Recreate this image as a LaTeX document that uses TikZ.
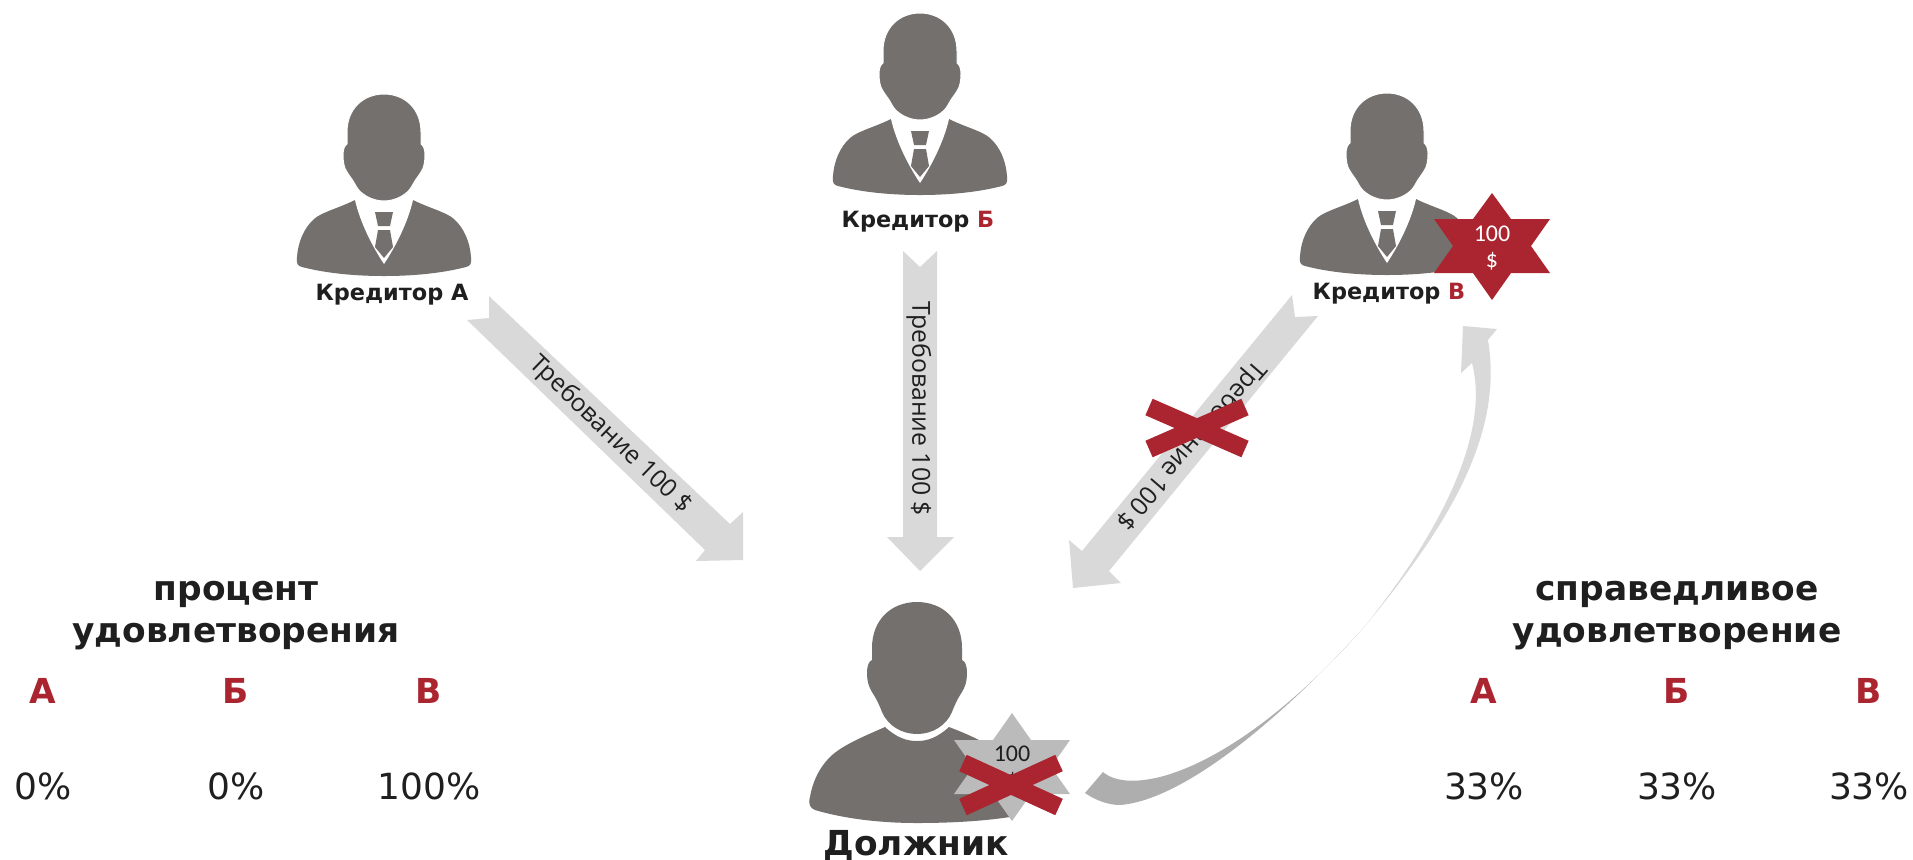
\documentclass[tikz,border=0pt]{standalone}
\usepackage{fontspec}
\setmainfont{DejaVu Sans}
\newfontfamily\arrowfont{Open Sans}
\newfontfamily\starfont{Carlito}
\definecolor{persongray}{HTML}{73706D}
\definecolor{brickred}{HTML}{AB2530}
\definecolor{inkdark}{HTML}{1F1F1F}
\definecolor{arrowgray}{HTML}{D9D9D9}
\definecolor{stargray}{HTML}{BBBBBB}
\definecolor{curvedark}{HTML}{AEAEAE}
\pgfdeclareverticalshading{curveshade}{100bp}{color(0bp)=(curvedark); color(36bp)=(curvedark); color(49bp)=(arrowgray); color(100bp)=(arrowgray)}
\tikzset{
  base/.style={inner sep=0pt,outer sep=0pt,anchor=base,text=inkdark},
  namelabel/.style={base,font=\fontsize{11.2}{13}\selectfont\bfseries},
  headlabel/.style={base,font=\fontsize{17.2}{21}\selectfont\bfseries,align=center},
  letterlabel/.style={base,font=\fontsize{17.2}{20}\selectfont\bfseries,text=brickred},
  pctlabel/.style={base,font=\fontsize{18}{20}\selectfont},
  arrowlabel/.style={inner sep=0pt,outer sep=0pt,anchor=center,text=inkdark,font=\arrowfont\fontsize{12.4}{14}\selectfont},
  starlabel/.style={base,font=\starfont\fontsize{12}{14}\selectfont},
  blockarrow/.style={fill=arrowgray},
  crossbar/.style={draw=brickred,line width=9pt,line cap=butt},
  pics/creditor/.style={code={
    \fill[persongray] (-29,106) .. controls (-45,114) and (-62,118) .. (-70,125) .. controls (-80,134) and (-86,148) .. (-87,163) .. controls (-88,170) and (-86,172) .. (-82,173) .. controls (-55,180) and (-25,182) .. (0,182) .. controls (25,182) and (55,180) .. (82,173) .. controls (86,172) and (88,170) .. (87,163) .. controls (86,148) and (80,134) .. (70,125) .. controls (62,118) and (45,114) .. (29,106) -- cycle;
    \fill[white] (-29,106) .. controls (-24,128) and (-12,152) .. (0,170) .. controls (12,152) and (24,128) .. (29,106) -- cycle;
    \fill[persongray,draw=white,line width=0.5pt] (0,0) .. controls (-21,0) and (-37,15) .. (-37,38) -- (-37,50) .. controls (-39,51) and (-41,55) .. (-41,60) .. controls (-41,68) and (-40,74) .. (-37,78) .. controls (-34,83) and (-31,86) .. (-28,92) .. controls (-24,100) and (-12,107) .. (0,107) .. controls (12,107) and (24,100) .. (28,92) .. controls (31,86) and (34,83) .. (37,78) .. controls (40,74) and (41,68) .. (41,60) .. controls (41,55) and (39,51) .. (37,50) -- (37,38) .. controls (37,15) and (21,0) .. (0,0) -- cycle;
    \fill[persongray] (-9,118) -- (9,118) -- (6,132) -- (-6,132) -- cycle;
    \fill[persongray] (-6,136) -- (6,136) -- (9,153) -- (0,164) -- (-9,153) -- cycle;
  }},
  pics/debtor/.style={code={
    \fill[persongray] (-32,125) .. controls (-20,136) and (-10,139) .. (0,139) .. controls (10,139) and (20,136) .. (32,125) .. controls (50,132) and (75,142) .. (90,158) -- (93,215) .. controls (60,220) and (25,221) .. (0,221) .. controls (-40,221) and (-75,216) .. (-102,208) .. controls (-107,206) and (-109,202) .. (-107,195) .. controls (-104,178) and (-97,165) .. (-87,155) .. controls (-75,143) and (-50,133) .. (-32,125) -- cycle;
    \fill[persongray] (0,0) .. controls (-26,0) and (-45,18) .. (-45,46) -- (-45,58) .. controls (-48,59) and (-50,64) .. (-50,70) .. controls (-50,80) and (-48,85) .. (-45,90) .. controls (-41,96) and (-38,102) .. (-35,110) .. controls (-29,124) and (-15,132) .. (0,132) .. controls (15,132) and (29,124) .. (35,110) .. controls (38,102) and (41,96) .. (45,90) .. controls (48,85) and (50,80) .. (50,70) .. controls (50,64) and (48,59) .. (45,58) -- (45,46) .. controls (45,18) and (26,0) .. (0,0) -- cycle;
  }}
}
\begin{document}
\begin{tikzpicture}[x=0.5pt,y=-0.5pt]
\useasboundingbox (0,0) rectangle (1913,859);
% block arrows
\fill[blockarrow] (489,296) -- (489,318) -- (467,320) -- (705,550) -- (696,561) -- (743,560) -- (743,512) -- (730,524) -- cycle;
\fill[blockarrow] (903,251) -- (920,267) -- (937,251) -- (937,537) -- (954,537) -- (920,571) -- (887,537) -- (903,537) -- cycle;
\fill[blockarrow] (1292,295) -- (1295,317) -- (1318,316) -- (1109,571) -- (1121,583) -- (1073,588) -- (1069,540) -- (1082,551) -- cycle;
% curved arrow
\shade[shading=curveshade] (1463,326) -- (1497,329) -- (1488,340)
  .. controls (1505,440) and (1440,535) .. (1365,626)
  .. controls (1285,715) and (1185,800) .. (1120,805)
  .. controls (1108,805) and (1095,800) .. (1085,793)
  -- (1103,772)
  .. controls (1115,782) and (1135,783) .. (1160,777)
  .. controls (1225,760) and (1300,700) .. (1365,626)
  .. controls (1430,545) and (1492,440) .. (1472,363)
  -- (1461,373) -- cycle;
% people
\pic at (384,94) {creditor};
\pic at (920,13) {creditor};
\pic at (1387,93) {creditor};
\pic at (917,602) {debtor};
% person labels
\node[namelabel] (credA) at (392,300) {Кредитор А};
\node[namelabel] (credB) at (918,227) {Кредитор \textcolor{brickred}{Б}};
\node[namelabel] (credV) at (1389,299) {Кредитор \textcolor{brickred}{В}};
\node[base,font=\fontsize{17.2}{20}\selectfont\bfseries] (debtor) at (916,855) {Должник};
% arrow labels
\node[arrowlabel,rotate=-44] (reqA) at (610,435) {Требование 100 \$};
\node[arrowlabel,rotate=-90] (reqB) at (919,409) {Требование 100 \$};
\node[arrowlabel,rotate=-131] (reqV) at (1190,445) {Требование 100 \$};
% stars
\fill[brickred] (1492,193) -- (1511,219) -- (1550,219) -- (1531,246) -- (1550,273) -- (1511,273) -- (1492,300) -- (1473,273) -- (1434,273) -- (1453,246) -- (1434,219) -- (1473,219) -- cycle;
\node[starlabel,text=white] (star100) at (1492,241) {100};
\node[starlabel,text=white] (starusd) at (1492,267) {\$};
\fill[stargray] (1012,713) -- (1031,740) -- (1070,740) -- (1051,767) -- (1070,794) -- (1031,794) -- (1012,821) -- (993,794) -- (954,794) -- (973,767) -- (954,740) -- (993,740) -- cycle;
\node[starlabel] (dstar100) at (1012,761) {100};
\node[starlabel] (dstarusd) at (1012,787) {\$};
% crosses
\draw[crossbar] (963,763) -- (1059,807);
\draw[crossbar] (1059,763) -- (963,807);
\draw[crossbar] (1149,407) -- (1245,449);
\draw[crossbar] (1245,407) -- (1149,449);
% left table
\node[headlabel] (leftH1) at (236,600) {процент};
\node[headlabel] (leftH2) at (236,642) {удовлетворения};
\node[letterlabel] (la) at (43,703) {А};
\node[letterlabel] (lb) at (236,703) {Б};
\node[letterlabel] (lv) at (429,703) {В};
\node[pctlabel] (lpa) at (43,799) {0\%};
\node[pctlabel] (lpb) at (236,799) {0\%};
\node[pctlabel] (lpv) at (429,799) {100\%};
% right table
\node[headlabel] (rightH1) at (1677,600) {справедливое};
\node[headlabel] (rightH2) at (1677,642) {удовлетворение};
\node[letterlabel] (ra) at (1484,703) {А};
\node[letterlabel] (rb) at (1677,703) {Б};
\node[letterlabel] (rv) at (1869,703) {В};
\node[pctlabel] (rpa) at (1484,799) {33\%};
\node[pctlabel] (rpb) at (1677,799) {33\%};
\node[pctlabel] (rpv) at (1869,799) {33\%};
\end{tikzpicture}
\end{document}
